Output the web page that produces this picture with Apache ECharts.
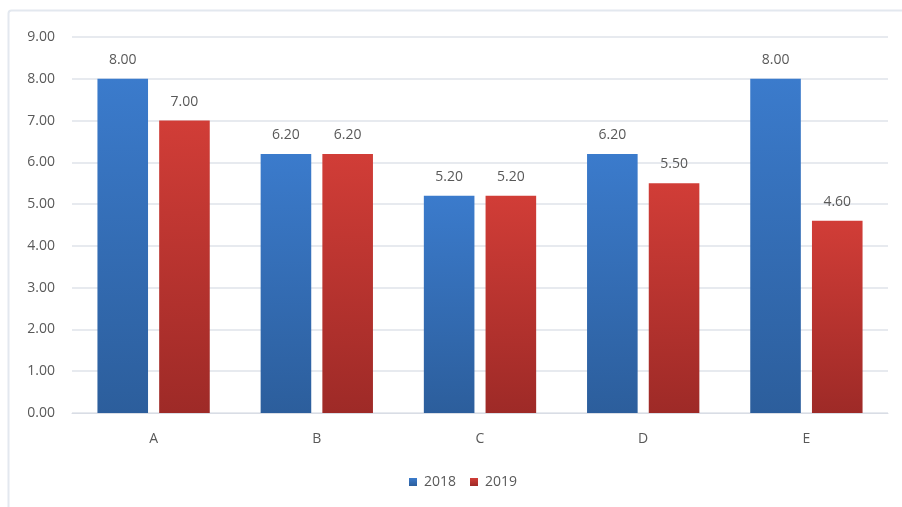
<!DOCTYPE html>
<html>
<head>
<meta charset="utf-8">
<script src="https://cdn.jsdelivr.net/npm/echarts@6/dist/echarts.min.js"></script>
<style>
html,body{margin:0;padding:0;background:#fff;}
#c{width:902px;height:507px;}
</style>
</head>
<body>
<div id="c"></div>
<script>
const categories = ['A', 'B', 'C', 'D', 'E'];
const series2018 = [8.0, 6.2, 5.2, 6.2, 8.0];
const series2019 = [7.0, 6.2, 5.2, 5.5, 4.6];
const seriesNames = ['2018', '2019'];

const chart = echarts.init(document.getElementById('c'));
const fontFamily = '"Open Sans", "Noto Sans", sans-serif';
const labelColor = '#595959';

function grad(top, bottom) {
  return new echarts.graphic.LinearGradient(0, 0, 0, 1, [
    { offset: 0, color: top },
    { offset: 1, color: bottom }
  ]);
}

chart.setOption({
  animation: false,
  backgroundColor: '#ffffff',
  textStyle: { fontFamily: fontFamily },
  graphic: [{
    type: 'rect',
    shape: { x: 8.5, y: 10.5, width: 920, height: 520, r: 3 },
    style: { fill: 'none', stroke: '#e3e8ef', lineWidth: 2 },
    silent: true,
    z: -10
  }],
  grid: { left: 72, right: 14, top: 37, bottom: 94, containLabel: false },
  legend: {
    data: seriesNames,
    bottom: 13,
    left: 404,
    itemWidth: 8,
    itemHeight: 8,
    itemGap: 14,
    icon: 'rect',
    textStyle: { color: labelColor, fontSize: 14, fontFamily: fontFamily, padding: [0, 0, 0, 2] }
  },
  xAxis: {
    type: 'category',
    data: categories,
    axisLine: { show: true, lineStyle: { color: '#d9dde5', width: 1 } },
    axisTick: { show: false },
    axisLabel: { color: labelColor, fontSize: 14, margin: 19, fontFamily: fontFamily }
  },
  yAxis: {
    type: 'value',
    min: 0,
    max: 9,
    interval: 1,
    axisLine: { show: false },
    axisTick: { show: false },
    splitLine: { lineStyle: { color: '#dfe3ea', width: 1.5 } },
    axisLabel: {
      color: labelColor, fontSize: 14, margin: 17, fontFamily: fontFamily,
      formatter: v => v.toFixed(2)
    }
  },
  series: [
    {
      name: seriesNames[0],
      type: 'bar',
      data: series2018,
      barWidth: '31%',
      barGap: '22%',
      itemStyle: { color: grad('#3b7bcc', '#2c5e9c') },
      label: {
        show: true, position: 'top', distance: 12, color: labelColor, fontSize: 14,
        fontFamily: fontFamily, formatter: p => p.value.toFixed(2)
      }
    },
    {
      name: seriesNames[1],
      type: 'bar',
      data: series2019,
      barWidth: '31%',
      itemStyle: { color: grad('#d13d37', '#9e2a27') },
      label: {
        show: true, position: 'top', distance: 12, color: labelColor, fontSize: 14,
        fontFamily: fontFamily, formatter: p => p.value.toFixed(2)
      }
    }
  ]
});
</script>
</body>
</html>
